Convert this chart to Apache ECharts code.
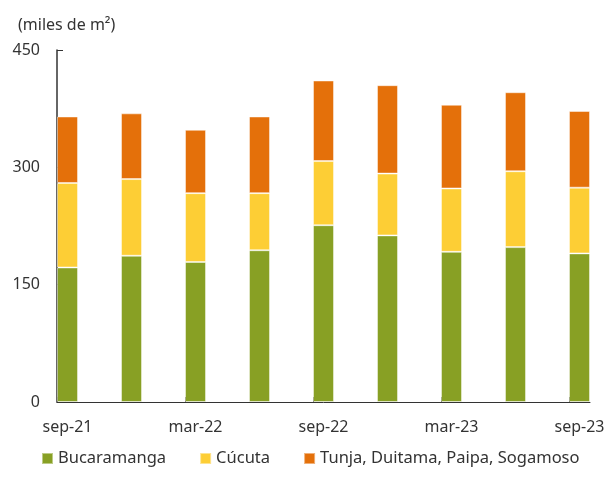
<!DOCTYPE html>
<html>
<head>
<meta charset="utf-8">
<script src="https://cdn.jsdelivr.net/npm/echarts@6/dist/echarts.min.js"></script>
<style>
  html, body { margin: 0; padding: 0; background: #fff; }
  #chart { width: 608px; height: 493px; }
</style>
</head>
<body>
<div id="chart"></div>
<script>
// trimestres
var categories = ['sep-21', 'dic-21', 'mar-22', 'jun-22', 'sep-22', 'dic-22', 'mar-23', 'jun-23', 'sep-23'];
// miles de m2
var bucaramanga = [172, 187, 179, 194, 226, 213, 192, 198, 190];
var cucuta = [108, 98, 88, 73, 82, 79, 81, 97, 84];
var tunja = [85, 84, 81, 98, 103, 113, 107, 101, 98];
var yTicks = [0, 150, 300, 450];

// las barras arrancan en el tick, no centradas en el
var off = 0.1643;
var font = 'Noto Sans';

// [valor, posicion] -> la primera dimension es la que se apila
function toPoints(arr) {
    return arr.map(function (v, i) { return [v, i + off]; });
}

var tickVals = [];
var labelVals = [];
for (var i = 0; i < categories.length; i += 2) {
    tickVals.push(i);
    labelVals.push(i + off);
}

var barStyle = function (c) {
    return { color: c, borderColor: 'rgba(255,255,255,0.45)', borderWidth: 1 };
};

var myChart = echarts.init(document.getElementById('chart'));
var option = {
    animation: false,
    title: {
        text: '(miles de m²)',
        left: 13,
        top: 12,
        textStyle: { fontFamily: font, fontSize: 16, fontWeight: 'normal', color: '#333' }
    },
    legend: {
        top: 445,
        left: 36,
        icon: 'rect',
        itemWidth: 11,
        itemHeight: 11,
        itemGap: 33,
        textStyle: { fontFamily: font, fontSize: 16.5, color: '#333' },
        data: ['Bucaramanga', 'Cúcuta', 'Tunja, Duitama, Paipa, Sogamoso']
    },
    grid: { left: 57, right: 18, top: 50, bottom: 91 },
    xAxis: {
        type: 'value',
        min: 0,
        max: categories.length - 1 + 2 * off,
        splitLine: { show: false },
        axisLine: { show: true, lineStyle: { color: '#333', width: 1 } },
        axisTick: { show: true, inside: true, length: 5, customValues: tickVals, lineStyle: { color: '#333' } },
        axisLabel: {
            customValues: labelVals,
            margin: 17,
            fontFamily: font,
            fontSize: 16,
            color: '#333',
            formatter: function (v) { return categories[Math.round(v - off)] || ''; }
        }
    },
    yAxis: {
        type: 'value',
        min: 0,
        max: 450,
        interval: 150,
        splitLine: { show: false },
        axisLine: { show: true, lineStyle: { color: '#333', width: 1.5 } },
        axisTick: { show: true, inside: true, length: 6, lineStyle: { color: '#333' } },
        axisLabel: {
            margin: 17,
            fontFamily: font,
            fontSize: 16,
            color: '#333',
            customValues: yTicks
        }
    },
    series: [
        {
            name: 'Bucaramanga',
            type: 'bar',
            stack: 'total',
            barWidth: 21,
            encode: { x: 1, y: 0 },
            itemStyle: barStyle('#88A024'),
            data: toPoints(bucaramanga)
        },
        {
            name: 'Cúcuta',
            type: 'bar',
            stack: 'total',
            barWidth: 21,
            encode: { x: 1, y: 0 },
            itemStyle: barStyle('#FDCE35'),
            data: toPoints(cucuta)
        },
        {
            name: 'Tunja, Duitama, Paipa, Sogamoso',
            type: 'bar',
            stack: 'total',
            barWidth: 21,
            encode: { x: 1, y: 0 },
            itemStyle: barStyle('#E4700A'),
            data: toPoints(tunja)
        }
    ]
};
myChart.setOption(option, true);
</script>
</body>
</html>
